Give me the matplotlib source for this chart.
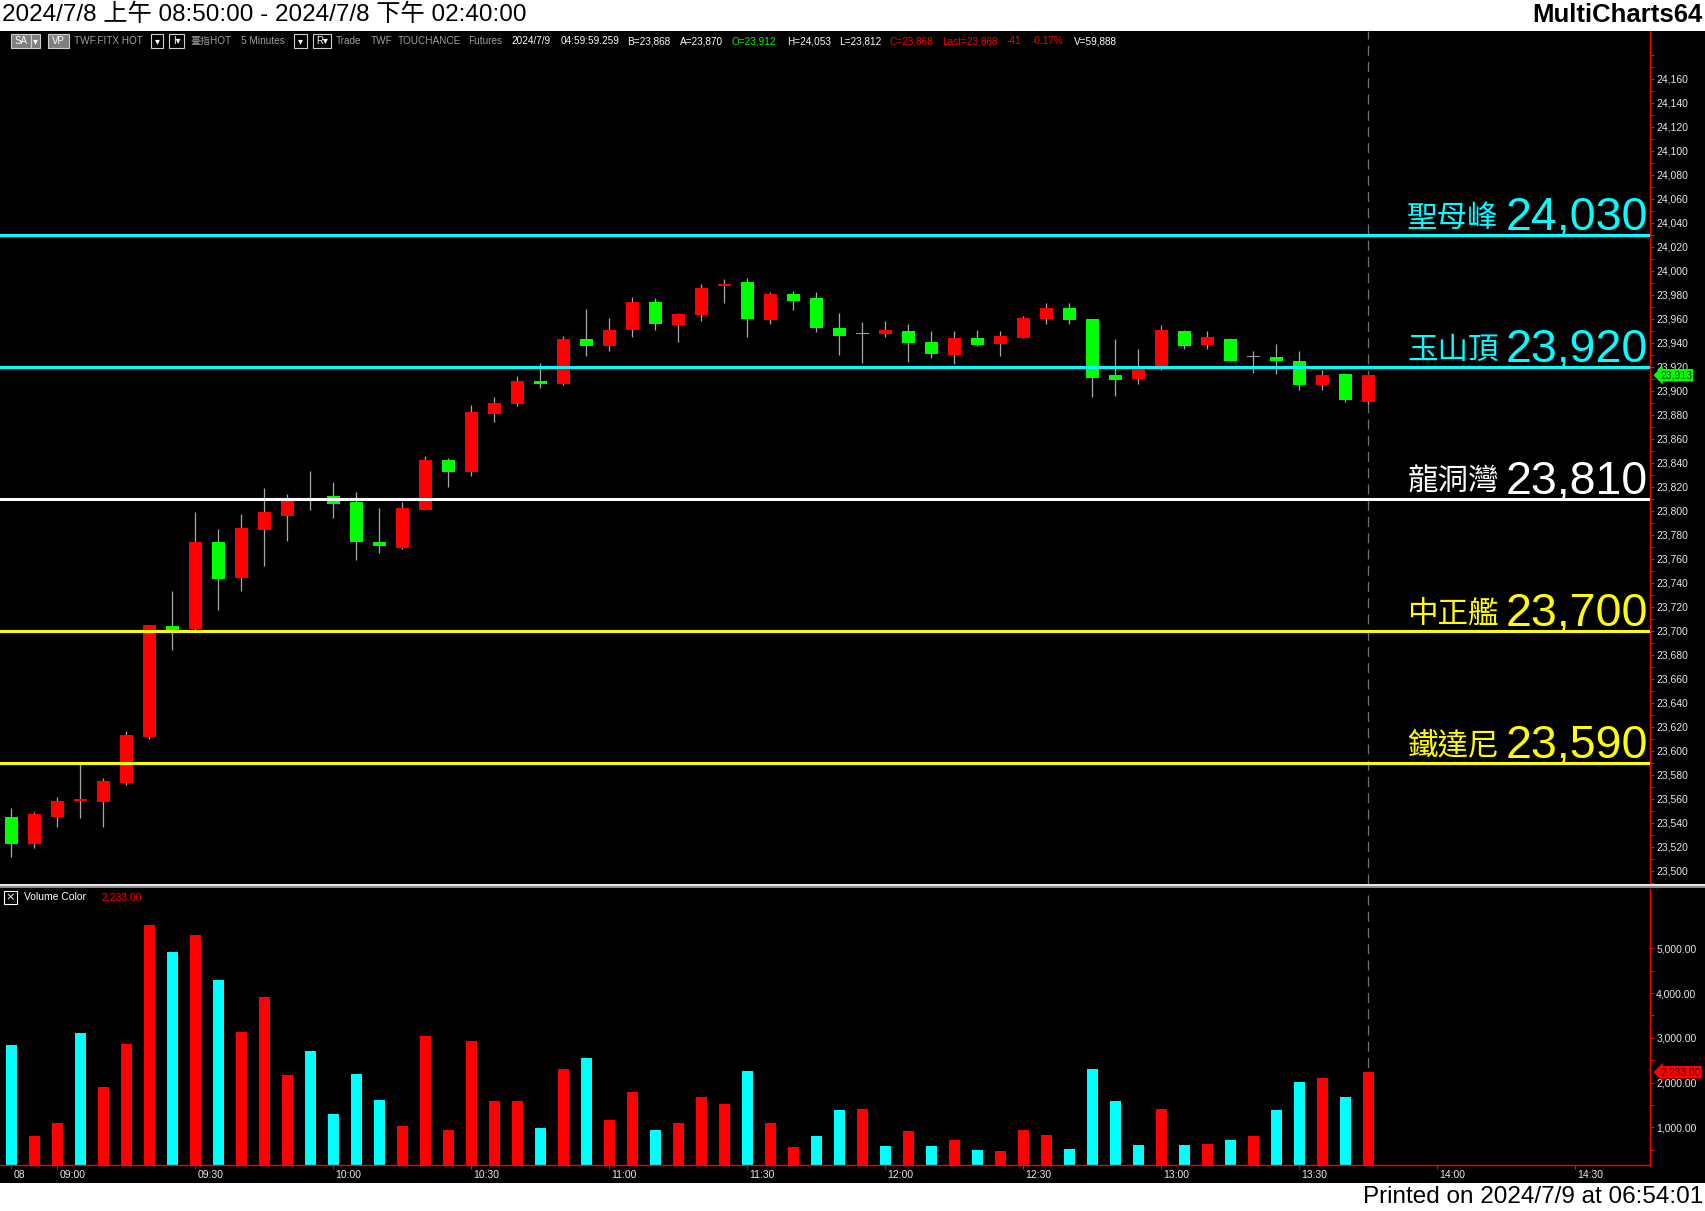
import matplotlib
matplotlib.use("Agg")
import matplotlib.pyplot as plt
import numpy as np
from matplotlib import font_manager
from matplotlib.patches import Rectangle
from matplotlib.ticker import FixedLocator, FuncFormatter
from matplotlib.transforms import ScaledTranslation

# 5 minute bars of the day session, 08:50 .. 13:45
opens = [23545, 23522, 23545, 23558, 23557, 23573, 23611, 23704, 23701, 23774,
         23744, 23784, 23796, 23808, 23812, 23807, 23774, 23769, 23801, 23842,
         23832, 23881, 23889, 23908, 23906, 23943, 23937, 23951, 23974, 23955,
         23963, 23987, 23991, 23959, 23981, 23977, 23952, 23947, 23947, 23950,
         23941, 23930, 23944, 23939, 23944, 23960, 23969, 23960, 23913, 23910,
         23919, 23950, 23938, 23943, 23928, 23928, 23925, 23905, 23914, 23891]
highs = [23552, 23549, 23561, 23589, 23577, 23616, 23705, 23733, 23799, 23785,
         23797, 23819, 23814, 23833, 23824, 23816, 23802, 23807, 23846, 23844,
         23888, 23895, 23912, 23923, 23946, 23968, 23961, 23978, 23977, 23965,
         23989, 23993, 23994, 23982, 23983, 23982, 23965, 23957, 23958, 23956,
         23950, 23950, 23951, 23950, 23962, 23973, 23973, 23960, 23943, 23935,
         23955, 23951, 23950, 23944, 23933, 23939, 23933, 23917, 23915, 23913]
lows = [23511, 23519, 23536, 23544, 23536, 23571, 23610, 23684, 23700, 23717,
        23733, 23754, 23775, 23801, 23794, 23759, 23765, 23768, 23801, 23820,
        23829, 23874, 23887, 23902, 23905, 23929, 23933, 23945, 23951, 23941,
        23958, 23973, 23945, 23956, 23967, 23949, 23930, 23923, 23945, 23924,
        23927, 23922, 23937, 23929, 23944, 23956, 23956, 23895, 23896, 23906,
        23917, 23935, 23935, 23925, 23915, 23914, 23901, 23901, 23891, 23889]
closes = [23522, 23547, 23558, 23560, 23575, 23613, 23705, 23698, 23774, 23743,
          23786, 23799, 23809, 23809, 23806, 23774, 23771, 23802, 23842, 23832,
          23882, 23890, 23908, 23906, 23943, 23937, 23951, 23974, 23956, 23964,
          23986, 23989, 23960, 23981, 23975, 23952, 23946, 23947, 23951, 23940,
          23931, 23944, 23938, 23946, 23961, 23969, 23959, 23911, 23909, 23919,
          23951, 23937, 23945, 23925, 23928, 23925, 23905, 23913, 23892, 23913]

volumes = [2850, 820, 1110, 3110, 1910, 2870, 5520, 4920, 5300, 4300,
           3140, 3910, 2160, 2710, 1290, 2200, 1620, 1040, 3030, 950,
           2940, 1600, 1600, 980, 2310, 2560, 1160, 1800, 950, 1110,
           1690, 1530, 2250, 1110, 560, 820, 1400, 1420, 580, 910,
           580, 710, 490, 470, 950, 840, 510, 2310, 1580, 600,
           1420, 600, 640, 730, 800, 1400, 2020, 2110, 1690, 2233]
# 1 = red (up) volume, 0 = cyan volume
volume_up = [0, 1, 1, 0, 1, 1, 1, 0, 1, 0, 1, 1, 1, 0, 0, 0, 0, 1, 1, 1,
             1, 1, 1, 0, 1, 0, 1, 1, 0, 1, 1, 1, 0, 1, 1, 0, 0, 1, 0, 1,
             0, 1, 0, 1, 1, 1, 0, 0, 0, 0, 1, 0, 1, 0, 1, 0, 0, 1, 0, 1]

levels = [24030, 23920, 23810, 23700, 23590]
level_names = ["聖母峰", "玉山頂", "龍洞灣", "中正艦", "鐵達尼"]
level_colors = ["#00FFFF", "#00FFFF", "#FFFFFF", "#FFFF00", "#FFFF00"]

time_ticks = [0, 2, 8, 14, 20, 26, 32, 38, 44, 50, 56, 62, 68]
time_labels = ["08", "09:00", "09:30", "10:00", "10:30", "11:00", "11:30",
               "12:00", "12:30", "13:00", "13:30", "14:00", "14:30"]

last_price = 23913
last_volume = 2233

title = "2024/7/8 上午 08:50:00 - 2024/7/8 下午 02:40:00"
printed = "Printed on 2024/7/9 at 06:54:01"
toolbar_texts = ["TWF.FITX HOT", "臺指HOT", "5 Minutes", "Trade", "TWF", "TOUCHANCE",
                 "Futures", "2024/7/9", "04:59:59.259", "B=23,868", "A=23,870",
                 "O=23,912", "H=24,053", "L=23,812", "C=23,868", "Last=23,868",
                 "-41", "-0.17%", "V=59,888"]
toolbar_colors = ["#A0A0A0"] * 7 + ["white"] * 4 + ["#00FF00"] + ["white"] * 2 + \
                 ["#FF0000"] * 4 + ["white"]
toolbar_x = [74, 190, 241, 336, 371, 398, 468, 511, 561, 627, 680, 732, 787, 839,
             890, 942, 1007, 1032, 1074]

# fonts: try the narrow Liberation face for the screenshot captions
names = {f.name for f in font_manager.fontManager.ttflist}
if "Liberation Sans Narrow" in names:
    narrow, cap_size = "Liberation Sans Narrow", 21
else:
    narrow, cap_size = "Liberation Sans", 17.5
CJK = "Noto Sans CJK TC"
SANS = "Liberation Sans"

W, H = 1705, 1211
fig = plt.figure(figsize=(W / 100, H / 100), dpi=100, facecolor="black")


def box(l, t, r, b):
    # pixel box (from the top-left) -> figure fraction
    return [l / W, 1 - b / H, (r - l) / W, (b - t) / H]


ax = fig.add_axes(box(0, 31, 1650, 884), facecolor="black")
ax2 = fig.add_axes(box(0, 889, 1650, 1165), facecolor="black")

x = np.arange(len(opens))
o = np.array(opens)
c = np.array(closes)
candle_colors = np.where(c > o, "#FF0000", np.where(c < o, "#00FF00", "#A0A0A0"))

# candles
ax.vlines(x, lows, highs, color="#A8A8A8", lw=0.9, zorder=2)
ax.bar(x, np.maximum(np.abs(c - o), 1.2), bottom=np.minimum(o, c), width=0.56,
       color=candle_colors, linewidth=0, zorder=3)
ax.axvline(x[-1], color="#707070", lw=0.9, ls=(0, (8, 5)), zorder=1)

# level lines and their captions
num_texts = []
for lv, col in zip(levels, level_colors):
    ax.axhline(lv, color=col, lw=2.2, zorder=4)
    t = ax.annotate(f"{lv:,}", xy=(1, lv), xycoords=("axes fraction", "data"),
                    xytext=(-2, 5), textcoords="offset pixels", ha="right",
                    va="baseline", fontsize=33.5, color=col, family=SANS, zorder=5)
    num_texts.append(t)

fig.canvas.draw()
for t, lv, nm, col in zip(num_texts, levels, level_names, level_colors):
    w = t.get_window_extent().width
    ax.annotate(nm, xy=(1, lv), xycoords=("axes fraction", "data"),
                xytext=(-2 - w - 7, 8), textcoords="offset pixels", ha="right",
                va="baseline", fontsize=22, color=col, family=CJK, weight="light",
                zorder=5)

ax.set_xlim(-0.5, 71.24)
ax.set_ylim(23488.8, 24200.0)
ax.yaxis.tick_right()
ax.yaxis.set_major_locator(FixedLocator(np.arange(23500, 24161, 20)))
ax.yaxis.set_minor_locator(FixedLocator(np.arange(23490, 24185, 10)))
ax.yaxis.set_major_formatter(FuncFormatter(lambda v, _: f"{v:,.0f}"))
ax.tick_params(axis="y", which="both", colors="red", length=3, width=0.8,
               labelcolor="#E8E8E8", labelsize=7.5, pad=1.5)
ax.tick_params(axis="x", bottom=False, labelbottom=False)
for s in ["left", "top", "bottom"]:
    ax.spines[s].set_visible(False)
ax.spines["right"].set_color("red")
ax.spines["right"].set_linewidth(1)
for lab in ax.get_yticklabels():
    lab.set_family(SANS)

ax.annotate(f"{last_price:,}", xy=(1, last_price), xycoords=("axes fraction", "data"),
            xytext=(10, 0), textcoords="offset pixels", ha="left", va="center",
            fontsize=7.5, color="#004000", family=SANS, zorder=6,
            annotation_clip=False,
            bbox=dict(boxstyle="larrow,pad=0.12", fc="#00FF00", ec="none"))

# volume
vol_colors = ["#FF0000" if u else "#00FFFF" for u in volume_up]
ax2.axvline(x[-1], color="#707070", lw=0.9, ls=(0, (8, 5)), zorder=1)
ax2.bar(x, volumes, width=0.48, color=vol_colors, linewidth=0, zorder=2)
ax2.set_xlim(-0.5, 71.24)
ax2.set_ylim(162, 6322)
ax2.yaxis.tick_right()
ax2.yaxis.set_major_locator(FixedLocator(np.arange(1000, 5001, 1000)))
ax2.yaxis.set_minor_locator(FixedLocator(np.arange(500, 4501, 1000)))
ax2.yaxis.set_major_formatter(FuncFormatter(lambda v, _: f"{v:,.2f}"))
ax2.tick_params(axis="y", which="both", colors="red", length=3, width=0.8,
                labelcolor="#E8E8E8", labelsize=7.5, pad=1.5)
ax2.set_xticks(time_ticks)
ax2.set_xticklabels(time_labels)
ax2.tick_params(axis="x", colors="red", length=3, width=0.8, labelcolor="#E8E8E8",
                labelsize=7.5, pad=0.5)
shift = ScaledTranslation(0.02, 0, fig.dpi_scale_trans)
for lab in ax2.get_xticklabels():
    lab.set_ha("left")
    lab.set_family(SANS)
    lab.set_transform(lab.get_transform() + shift)
for lab in ax2.get_yticklabels():
    lab.set_family(SANS)
for s in ["left", "top"]:
    ax2.spines[s].set_visible(False)
for s in ["right", "bottom"]:
    ax2.spines[s].set_color("red")
    ax2.spines[s].set_linewidth(1)

ax2.annotate(f"{last_volume:,.2f}", xy=(1, last_volume), xycoords=("axes fraction", "data"),
             xytext=(10, 0), textcoords="offset pixels", ha="left", va="center",
             fontsize=7.5, color="#400000", family=SANS, zorder=6,
             annotation_clip=False,
             bbox=dict(boxstyle="larrow,pad=0.12", fc="#FF0000", ec="none"))

# overlay in pixel coordinates for the window frame
ov = fig.add_axes([0, 0, 1, 1])
ov.set_xlim(0, W)
ov.set_ylim(H, 0)
ov.axis("off")
ov.set_zorder(5)
ov.patch.set_alpha(0)

ov.add_patch(Rectangle((0, 0), W, 31, fc="white", ec="none"))
ov.add_patch(Rectangle((0, 1183), W, 28, fc="white", ec="none"))
ov.text(2, 15, title, ha="left", va="center", fontsize=cap_size, color="black",
        family=[narrow, CJK])
ov.text(1703, 15, "MultiCharts64", ha="right", va="center", fontsize=18.5,
        color="black", family=SANS, weight="bold")
ov.text(1703, 1197, printed, ha="right", va="center", fontsize=cap_size,
        color="black", family=narrow)

# panel separator
ov.plot([0, W], [884.8, 884.8], color="white", lw=1.3)
ov.plot([0, W], [887.3, 887.3], color="#9A9A9A", lw=1.3)

# toolbar
for bx, bw, fill in [(11, 20, "#7F7F7F"), (31, 9, "#7F7F7F"), (48, 21, "#7F7F7F"),
                     (151, 12, "black"), (169, 15, "black"), (294, 13, "black"),
                     (313, 18, "black")]:
    ov.add_patch(Rectangle((bx, 34), bw, 14, fc=fill, ec="#D0D0D0", lw=0.8))
for bx, s in [(21, "SA"), (35.5, "▾"), (58.5, "VP"), (157, "▾"), (176.5, "I▾"),
              (300.5, "▾"), (322, "R▾")]:
    ov.text(bx, 41, s, ha="center", va="center", fontsize=7, color="white",
            family=[SANS, "DejaVu Sans"])
for tx, s, col in zip(toolbar_x, toolbar_texts, toolbar_colors):
    ov.text(tx, 41, s, ha="left", va="center", fontsize=7.2, color=col,
            family=[SANS, CJK])

# volume study caption
ov.add_patch(Rectangle((4, 891), 13, 13, fc="black", ec="white", lw=0.8))
ov.text(10.5, 897.5, "×", ha="center", va="center", fontsize=8, color="white",
        family="DejaVu Sans")
ov.text(24, 897.5, "Volume Color", ha="left", va="center", fontsize=7.5,
        color="white", family=SANS)
ov.text(101, 897.5, f"{last_volume:,.2f}", ha="left", va="center", fontsize=7.5,
        color="#FF0000", family=SANS)

fig.savefig("out.png", dpi=100, facecolor="black")
